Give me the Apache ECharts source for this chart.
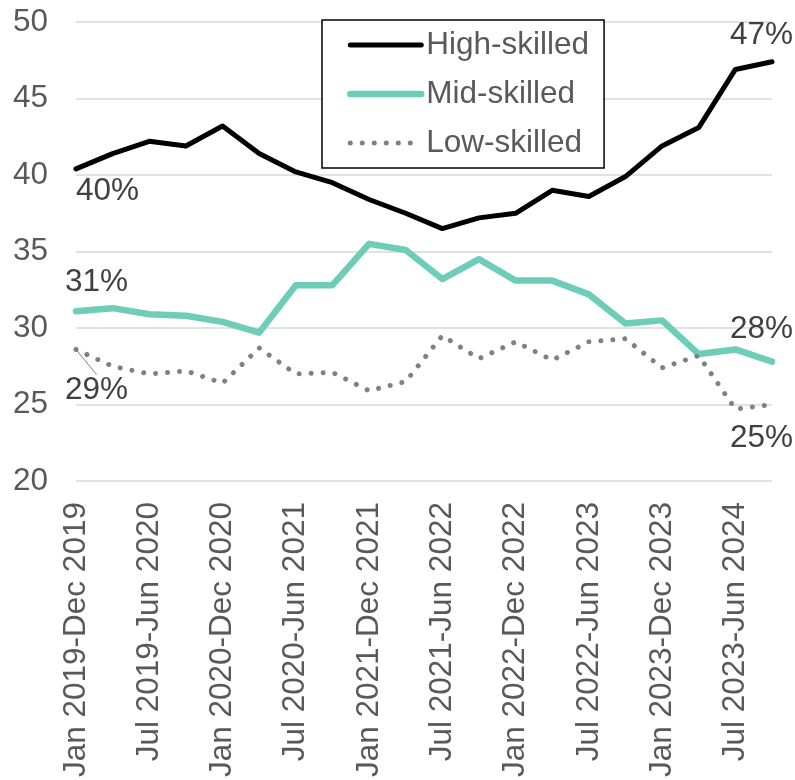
<!DOCTYPE html>
<html>
<head>
<meta charset="utf-8">
<script src="https://cdn.jsdelivr.net/npm/echarts@6/dist/echarts.min.js"></script>
<style>
html,body{margin:0;padding:0;background:#fff;}
#chart{width:795px;height:780px;}
</style>
</head>
<body>
<div id="chart"></div>
<script>
var categories = [
  "Jan 2019-Dec 2019","Apr 2019-Mar 2020","Jul 2019-Jun 2020","Oct 2019-Sep 2020",
  "Jan 2020-Dec 2020","Apr 2020-Mar 2021","Jul 2020-Jun 2021","Oct 2020-Sep 2021",
  "Jan 2021-Dec 2021","Apr 2021-Mar 2022","Jul 2021-Jun 2022","Oct 2021-Sep 2022",
  "Jan 2022-Dec 2022","Apr 2022-Mar 2023","Jul 2022-Jun 2023","Oct 2022-Sep 2023",
  "Jan 2023-Dec 2023","Apr 2023-Mar 2024","Jul 2023-Jun 2024","Oct 2023-Sep 2024"
];
var highSkilled = [40.4,41.4,42.2,41.9,43.2,41.4,40.2,39.5,38.4,37.5,36.5,37.2,37.5,39.0,38.6,39.9,41.9,43.1,46.9,47.4];
var midSkilled  = [31.1,31.3,30.9,30.8,30.4,29.7,32.8,32.8,35.5,35.1,33.2,34.5,33.1,33.1,32.2,30.3,30.5,28.3,28.6,27.8];
var lowSkilled  = [28.6,27.5,27.0,27.2,26.4,28.7,27.0,27.1,25.9,26.5,29.5,28.0,29.1,27.9,29.1,29.3,27.4,28.2,24.7,25.0];
var yTicks = {min: 20, max: 50, interval: 5};
var seriesNames = ["High-skilled","Mid-skilled","Low-skilled"];
var firstLabels = ["40%","31%","29%"];
var lastLabels = ["47%","28%","25%"];

var FONT = "Liberation Sans, Arial, sans-serif";
var FS = 31.5;
var labelColor = "#404040";

function withLabels(values, firstText, firstPos, lastText, lastPos, extraFirst) {
  return values.map(function (v, i) {
    if (i === 0) {
      var item = {value: v, label: {show: true, formatter: firstText, position: firstPos, align: 'left', verticalAlign: 'middle'}};
      if (extraFirst) { for (var k in extraFirst) item[k] = extraFirst[k]; }
      return item;
    }
    if (i === values.length - 1) {
      return {value: v, label: {show: true, formatter: lastText, position: lastPos, align: 'right', verticalAlign: 'middle'}};
    }
    return v;
  });
}

var labelBase = {show: false, color: labelColor, fontSize: FS, fontFamily: FONT};

var chart = echarts.init(document.getElementById('chart'), null, {renderer: 'canvas'});
chart.setOption({
  animation: false,
  backgroundColor: '#ffffff',
  grid: {left: 76, right: 23, top: 22, bottom: 298, containLabel: false},
  legend: {
    data: seriesNames,
    orient: 'vertical',
    left: 322,
    top: 20,
    itemWidth: 71,
    itemHeight: 14,
    itemGap: 17,
    padding: [9, 15, 9, 25],
    borderColor: '#000000',
    borderWidth: 1.5,
    backgroundColor: '#ffffff',
    itemStyle: {opacity: 0},
    lineStyle: {width: 'inherit', type: 'inherit', cap: 'round'},
    textStyle: {color: '#595959', fontSize: FS, fontFamily: FONT, lineHeight: 32},
    selectedMode: false
  },
  xAxis: {
    type: 'category',
    data: categories,
    boundaryGap: false,
    axisLine: {show: false},
    axisTick: {show: false},
    splitLine: {show: false},
    axisLabel: {
      interval: 1,
      rotate: 90,
      margin: 21,
      color: '#595959',
      fontSize: FS,
      fontFamily: FONT
    }
  },
  yAxis: {
    type: 'value',
    min: yTicks.min,
    max: yTicks.max,
    interval: yTicks.interval,
    axisLine: {show: false},
    axisTick: {show: false},
    splitLine: {show: true, lineStyle: {color: '#d9d9d9', width: 1.5}},
    axisLabel: {color: '#595959', fontSize: FS, fontFamily: FONT, margin: 28}
  },
  series: [
    {
      name: seriesNames[0],
      type: 'line',
      data: withLabels(highSkilled, firstLabels[0], [0, 22], lastLabels[0], [21, -26]),
      symbol: 'circle',
      symbolSize: 0,
      showSymbol: true,
      itemStyle: {color: '#000000'},
      lineStyle: {color: '#000000', width: 5, join: 'round', cap: 'round'},
      label: labelBase,
      emphasis: {disabled: true},
      z: 2
    },
    {
      name: seriesNames[1],
      type: 'line',
      data: withLabels(midSkilled, firstLabels[1], [-11, -29], lastLabels[1], [21, -32]),
      symbol: 'circle',
      symbolSize: 0,
      showSymbol: true,
      itemStyle: {color: '#6ecdb8'},
      lineStyle: {color: '#6ecdb8', width: 6.5, join: 'round', cap: 'round'},
      label: labelBase,
      emphasis: {disabled: true},
      z: 3
    },
    {
      name: seriesNames[2],
      type: 'line',
      data: withLabels(lowSkilled, firstLabels[2], [-11, 41], lastLabels[2], [21, 34],
        {labelLine: {show: true, lineStyle: {color: '#808080', width: 1}}}),
      symbol: 'circle',
      symbolSize: 0,
      showSymbol: true,
      itemStyle: {color: '#808080'},
      lineStyle: {color: '#808080', width: 5, type: [0.01, 12], cap: 'round', join: 'round'},
      label: labelBase,
      emphasis: {disabled: true},
      z: 4
    }
  ]
});
</script>
</body>
</html>
